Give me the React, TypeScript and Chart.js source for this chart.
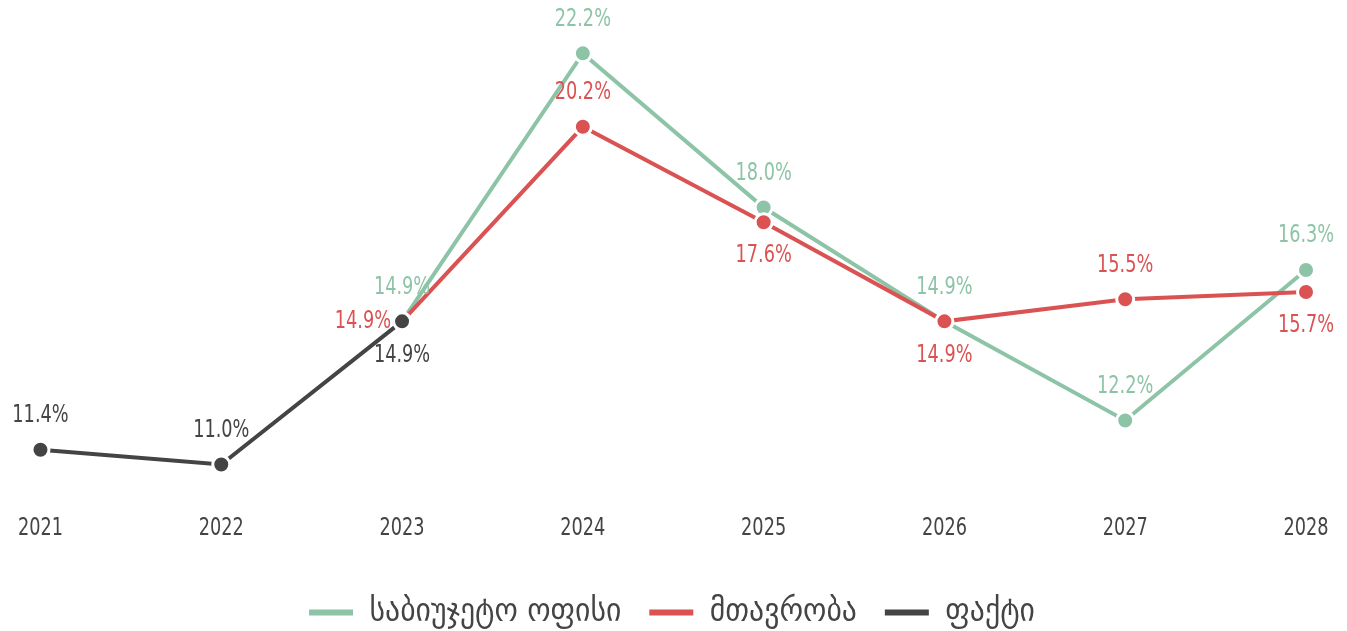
import React, { useEffect, useRef } from "react";
import { Chart, registerables } from "chart.js";

Chart.register(...registerables);

const years = ["2021", "2022", "2023", "2024", "2025", "2026", "2027", "2028"];
const budgetOffice = [null, null, 14.9, 22.2, 18.0, 14.9, 12.2, 16.3];
const government = [null, null, 14.9, 20.2, 17.6, 14.9, 15.5, 15.7];
const actual = [11.4, 11.0, 14.9, null, null, null, null, null];
const seriesNames = ["საბიუჯეტო ოფისი", "მთავრობა", "ფაქტი"];

const budgetLabelSide = ["", "", "top", "top", "top", "top", "top", "top"];
const governmentLabelSide = ["", "", "left", "top", "bottom", "bottom", "top", "bottom"];
const actualLabelSide = ["top", "top", "bottom", "", "", "", "", ""];

const GREEN = "rgb(141,196,167)";
const RED = "rgb(218,82,82)";
const DARK = "rgb(68,68,68)";
const FONT = "'DejaVu Sans Condensed', 'DejaVu Sans', sans-serif";
const NARROW = 0.82;

const valueLabels = {
  id: "valueLabels",
  beforeDraw(chart: any) {
    const xs = chart.scales.x;
    if (xs && !xs.__narrow) {
      const orig = xs.drawLabels.bind(xs);
      xs.drawLabels = function (area: any) {
        const ctx = this.ctx;
        const of = ctx.fillText;
        ctx.fillText = function (t: string, x: number, y: number) {
          this.save();
          this.translate(x, y);
          this.scale(NARROW, 1);
          of.call(this, t, 0, 0);
          this.restore();
        };
        try {
          orig(area);
        } finally {
          delete ctx.fillText;
        }
      };
      xs.__narrow = true;
    }
  },
  afterDatasetsDraw(chart: any) {
    const ctx = chart.ctx;
    ctx.save();
    ctx.font = `24px ${FONT}`;
    ctx.textBaseline = "middle";
    chart.data.datasets.forEach((ds: any, i: number) => {
      const meta = chart.getDatasetMeta(i);
      meta.data.forEach((pt: any, j: number) => {
        const v = ds.data[j];
        const side = ds.labelSide[j];
        if (v == null || !side) return;
        let x = pt.x;
        let y = pt.y;
        ctx.textAlign = "center";
        if (side === "top") y -= 34;
        else if (side === "bottom") y += 34;
        else if (side === "left") {
          x -= 11;
          ctx.textAlign = "right";
        }
        ctx.fillStyle = ds.borderColor;
        ctx.save();
        ctx.translate(x, y);
        ctx.scale(NARROW, 1);
        ctx.fillText(v.toFixed(1) + "%", 0, 0);
        ctx.restore();
      });
    });
    ctx.restore();
  },
};

export default function App() {
  const ref = useRef<HTMLCanvasElement | null>(null);
  useEffect(() => {
    document.body.style.margin = "0";
    document.body.style.background = "#fff";
    const mk = (label: string, data: any[], color: string, side: string[], order: number) => ({
      label,
      data,
      labelSide: side,
      order,
      borderColor: color,
      backgroundColor: color,
      borderWidth: 4,
      pointRadius: 8.5,
      pointHoverRadius: 8.5,
      pointBackgroundColor: color,
      pointBorderColor: "#fff",
      pointBorderWidth: 3,
      tension: 0,
      spanGaps: false,
    });
    const chart = new Chart(ref.current as HTMLCanvasElement, {
      type: "line",
      data: {
        labels: years,
        datasets: [
          mk(seriesNames[0], budgetOffice, GREEN, budgetLabelSide, 2),
          mk(seriesNames[1], government, RED, governmentLabelSide, 1),
          mk(seriesNames[2], actual, DARK, actualLabelSide, 0),
        ] as any,
      },
      options: {
        animation: false,
        responsive: true,
        maintainAspectRatio: false,
        layout: { padding: { left: 38, right: 41, top: 24, bottom: -8 } },
        scales: {
          x: {
            grid: { display: false, drawTicks: false },
            border: { display: false },
            ticks: { color: DARK, font: { family: FONT, size: 24 }, padding: 13 },
            afterFit: (s: any) => {
              s.height += 12;
            },
          },
          y: { display: false, min: 10, max: 23 },
        },
        plugins: {
          tooltip: { enabled: false },
          legend: {
            position: "bottom",
            labels: {
              color: DARK,
              font: { family: FONT, size: 33 },
              boxWidth: 44,
              boxHeight: 6,
              padding: 28,
              sort: (a: any, b: any) => a.datasetIndex - b.datasetIndex,
              generateLabels: (c: any) =>
                Chart.defaults.plugins.legend.labels.generateLabels(c).map((it: any) => ({
                  ...it,
                  lineWidth: 0,
                })),
            },
          },
        },
      },
      plugins: [valueLabels],
    });
    return () => chart.destroy();
  }, []);
  return (
    <div style={{ position: "fixed", left: 0, top: 0, width: 1347, height: 631 }}>
      <canvas ref={ref} />
    </div>
  );
}
